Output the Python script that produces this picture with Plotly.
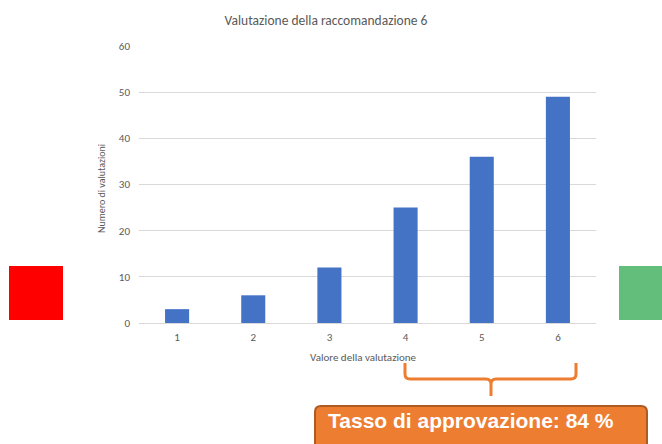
import plotly.graph_objects as go

categories = ["1", "2", "3", "4", "5", "6"]
counts = [3, 6, 12, 25, 36, 49]
y_ticks = [0, 10, 20, 30, 40, 50, 60]
title_text = "Valutazione della raccomandazione 6"
x_title = "Valore della valutazione"
y_title = "Numero di valutazioni"
badge_text = "Tasso di approvazione: 84 %"

W, H = 662, 444
ML, MR, MT, MB = 139, 66, 46, 121
PW, PH = W - ML - MR, H - MT - MB

def px(x):
    return (x - ML) / PW

def py(y):
    return (H - MB - y) / PH

FONT = "Carlito, Calibri, Lato, sans-serif"
GRAY = "#595959"
ORANGE = "#ED7D31"

fig = go.Figure(go.Bar(x=categories, y=counts, marker=dict(color="#4472C4", line=dict(width=0))))

shapes = []
# red and green squares
shapes.append(dict(type="rect", xref="paper", yref="paper", x0=px(9), x1=px(63), y0=py(320), y1=py(266),
                   fillcolor="#FF0000", line=dict(width=0), layer="above"))
shapes.append(dict(type="rect", xref="paper", yref="paper", x0=px(619), x1=px(670), y0=py(320), y1=py(266),
                   fillcolor="#63BE7B", line=dict(width=0), layer="above"))

# bracket
def P(x, y):
    return f"{px(x)},{py(y)}"

r = 5
bx0, bx1, btop, bbot, bmid, btip = 405, 576, 363, 379, 491, 396
bracket = (f"M {P(bx0, btop)} L {P(bx0, bbot - r)} Q {P(bx0, bbot)} {P(bx0 + r, bbot)} "
           f"L {P(bmid - r, bbot)} Q {P(bmid, bbot)} {P(bmid, bbot + r)} L {P(bmid, btip)} "
           f"M {P(bmid, bbot + r)} Q {P(bmid, bbot)} {P(bmid + r, bbot)} "
           f"L {P(bx1 - r, bbot)} Q {P(bx1, bbot)} {P(bx1, bbot - r)} L {P(bx1, btop)}")
shapes.append(dict(type="path", xref="paper", yref="paper", path=bracket,
                   line=dict(color=ORANGE, width=3), layer="above"))

# badge box with rounded corners
x0, x1, y0, y1, rr = 315, 647, 406, 452, 6
box = (f"M {P(x0 + rr, y0)} L {P(x1 - rr, y0)} Q {P(x1, y0)} {P(x1, y0 + rr)} L {P(x1, y1)} "
       f"L {P(x0, y1)} L {P(x0, y0 + rr)} Q {P(x0, y0)} {P(x0 + rr, y0)} Z")
shapes.append(dict(type="path", xref="paper", yref="paper", path=box, fillcolor=ORANGE,
                   line=dict(color="#AE5A21", width=2), layer="above"))

annotations = [
    dict(text=f"<b>{badge_text}</b>", xref="paper", yref="paper", x=px(326), y=py(420),
         xanchor="left", yanchor="middle", showarrow=False,
         font=dict(family="Liberation Sans, Arial, sans-serif", size=21, color="white")),
    dict(text=y_title, xref="paper", yref="paper", x=px(101), y=py(189), textangle=-90,
         xanchor="center", yanchor="middle", showarrow=False,
         font=dict(family=FONT, size=10, color=GRAY)),
    dict(text=x_title, xref="paper", yref="paper", x=px(363), y=py(357),
         xanchor="center", yanchor="middle", showarrow=False,
         font=dict(family=FONT, size=11, color=GRAY)),
]

fig.update_layout(
    width=W, height=H,
    margin=dict(l=ML, r=MR, t=MT, b=MB, pad=0),
    paper_bgcolor="white", plot_bgcolor="white",
    bargap=0.684,
    showlegend=False,
    title=dict(text=title_text, xref="container", x=326 / W, xanchor="center",
               yref="container", y=1 - 20 / H, yanchor="middle",
               font=dict(family=FONT, size=13.5, color=GRAY)),
    xaxis=dict(type="category", range=[-0.5, 5.5], showgrid=False, showline=False, ticks="",
               tickfont=dict(family=FONT, size=11, color=GRAY), ticklabelstandoff=6, fixedrange=True),
    yaxis=dict(range=[0, 60], tickvals=y_ticks, showgrid=True, gridcolor="#D9D9D9", gridwidth=1,
               zeroline=True, zerolinecolor="#D9D9D9", zerolinewidth=1, showline=False, ticks="",
               tickfont=dict(family=FONT, size=11, color=GRAY), ticklabelstandoff=8, fixedrange=True),
    shapes=shapes,
    annotations=annotations,
)

fig.write_html("out.html", config={"displayModeBar": False},
               post_script="document.body.style.margin='0';document.body.style.overflow='hidden';")
